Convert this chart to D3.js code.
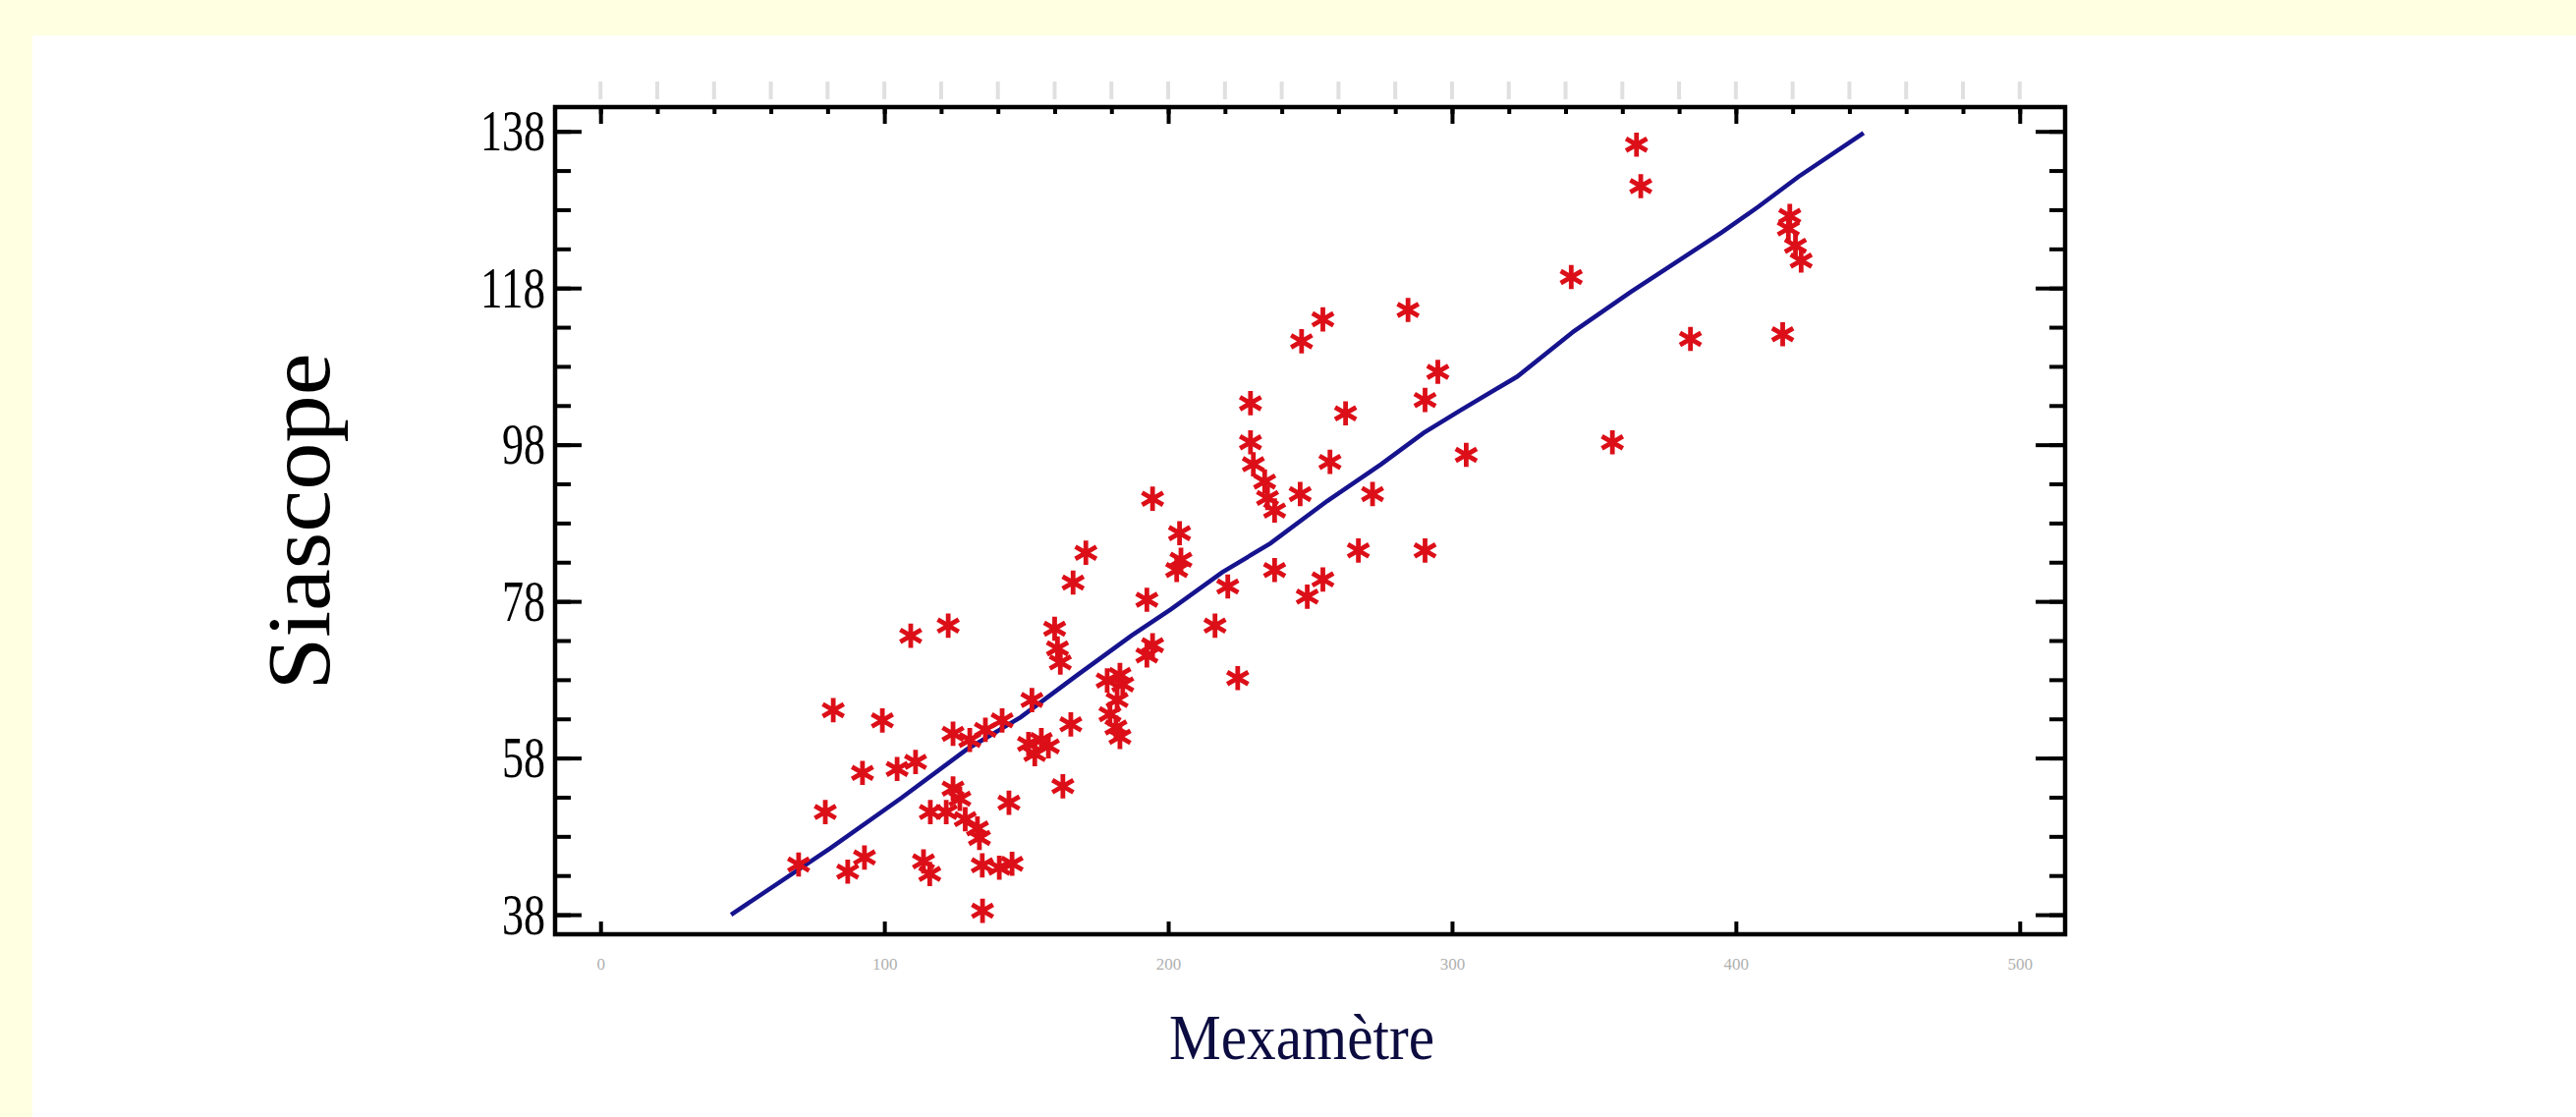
<!DOCTYPE html>
<html>
<head>
<meta charset="utf-8">
<script src="https://cdn.jsdelivr.net/npm/d3@7"></script>
<style>
html, body { margin: 0; padding: 0; background: #ffffe1; }
svg { display: block; }
</style>
</head>
<body>
<svg id="chart"></svg>
<script>
var width = 2622,
height = 1137

var xDomain = [-16, 516]
var yDomain = [35.5, 141.1]
var xTicks = [0, 100, 200, 300, 400, 500]
var yTicks = [38, 58, 78, 98, 118, 138]

// measured points (Mexametre, Siascope)
var mexametre = [365, 366.5, 342, 419, 418.5, 421, 423, 384, 416.5, 356.5,
  284.5, 254.5, 247, 295, 290.5, 229, 262.5, 229, 230, 257,
  234, 235, 237.5, 246.5, 272, 194.5, 204, 204.5, 203, 305,
  267, 290.5, 237.5, 254.5, 249, 221, 216.5, 192.5, 194.5, 224.5,
  171, 166.5, 160, 161, 162, 192.5, 183, 178.5, 184, 182,
  179.5, 183, 152, 109.3, 122.5, 82, 99.3, 141.5, 165.7, 155.3,
  150.8, 157.8, 124.2, 130.1, 135.6, 92.3, 104.5, 124.2, 126.6, 116.2,
  121.8, 143.9, 162.9, 132.8, 133.5, 79.2, 93, 113.8, 140.5, 69.8,
  87.1, 134.6, 134.5, 145, 116, 181.6, 111, 128.5, 153]
var siascope = [136.3, 131, 119.4, 127.2, 125.6, 123.4, 121.5, 111.5, 112.1, 98.3,
  115.2, 114, 111.2, 107.3, 103.7, 103.3, 102, 98.3, 95.5, 95.8,
  93.3, 91.2, 89.6, 91.7, 91.7, 91.1, 86.7, 83.3, 82, 96.7,
  84.5, 84.5, 82, 80.8, 78.6, 79.9, 74.9, 78.2, 72.4, 68.2,
  84.2, 80.4, 74.5, 72, 70.2, 71.1, 68.6, 67.9, 67.4, 65.4,
  63.6, 60.7, 65.4, 73.6, 74.9, 64.1, 62.8, 62.8, 62.3, 60.3,
  59.8, 59.5, 61.1, 60.3, 61.6, 56.1, 56.6, 54.1, 52.8, 51.1,
  51.1, 52.3, 54.4, 49, 47.8, 51.1, 45.3, 44.8, 44, 44.4,
  43.5, 38.5, 44.3, 44.5, 43.2, 61.9, 57.5, 50.2, 58.5]

// smoothed fit
var fitX = [46, 81, 106, 129, 148, 168, 187, 201, 219, 236, 256, 275, 290, 303, 323, 343, 363, 379, 395, 408, 422, 445]
var fitY = [38, 46.5, 52.9, 59.1, 63.2, 68.6, 73.6, 77, 81.7, 85.4, 90.8, 95.5, 99.5, 102.4, 106.7, 112.5, 117.5, 121.3, 125.1, 128.4, 132.2, 137.8]

var pLeft = 565, pRight = 2102, pTop = 109, pBottom = 951

var svg = d3.select("#chart")
.attr("width", width)
.attr("height", height)

svg.append("rect")
.attr("x", 33)
.attr("y", 36)
.attr("width", width - 33)
.attr("height", height - 36)
.attr("fill", "#ffffff")

var x = d3.scaleLinear().domain(xDomain).range([pLeft, pRight])
var y = d3.scaleLinear().domain(yDomain).range([pBottom, pTop])

var xMinor = d3.range(0, 501, 20)
var yMinor = d3.range(38, 139, 5)

// faint ghost ticks above the frame
svg.append("g")
.selectAll("line")
.data(xMinor)
.enter()
.append("line")
.attr("x1", function(d){ return x(d) })
.attr("x2", function(d){ return x(d) })
.attr("y1", pTop - 26)
.attr("y2", pTop - 8)
.attr("stroke", "#e0e0e0")
.attr("stroke-width", 4)

function tickStyle(g, w){
  g.select(".domain").remove()
  g.selectAll(".tick line").attr("stroke", "#000").attr("stroke-width", w)
}

svg.append("g")
.attr("transform", "translate(" + pLeft + ",0)")
.call(d3.axisLeft(y).tickValues(yMinor).tickSizeInner(-16).tickSizeOuter(0).tickFormat(""))
.call(tickStyle, 4)

svg.append("g")
.attr("transform", "translate(" + pLeft + ",0)")
.call(d3.axisLeft(y).tickValues(yTicks).tickSizeInner(-27).tickSizeOuter(0).tickPadding(10))
.call(tickStyle, 4)
.selectAll("text")
.attr("font-family", "'Liberation Serif', 'Times New Roman', serif")
.attr("font-size", 60)
.attr("fill", "#000")
.attr("textLength", function(d){ return String(d).length * 22 })
.attr("lengthAdjust", "spacingAndGlyphs")

svg.append("g")
.attr("transform", "translate(" + pRight + ",0)")
.call(d3.axisRight(y).tickValues(yMinor).tickSizeInner(-16).tickSizeOuter(0).tickFormat(""))
.call(tickStyle, 4)

svg.append("g")
.attr("transform", "translate(" + pRight + ",0)")
.call(d3.axisRight(y).tickValues(yTicks).tickSizeInner(-30).tickSizeOuter(0).tickFormat(""))
.call(tickStyle, 4)

svg.append("g")
.attr("transform", "translate(0," + pTop + ")")
.call(d3.axisTop(x).tickValues(xMinor).tickSizeInner(-7).tickSizeOuter(0).tickFormat(""))
.call(tickStyle, 4)

svg.append("g")
.attr("transform", "translate(0," + pTop + ")")
.call(d3.axisTop(x).tickValues(xTicks).tickSizeInner(-17).tickSizeOuter(0).tickFormat(""))
.call(tickStyle, 4)

svg.append("g")
.attr("transform", "translate(0," + pBottom + ")")
.call(d3.axisBottom(x).tickValues(xTicks).tickSizeInner(-13).tickSizeOuter(0).tickPadding(24))
.call(tickStyle, 4)
.selectAll("text")
.attr("font-family", "'Liberation Serif', serif")
.attr("font-size", 17)
.attr("fill", "#b0b0b0")

svg.append("rect")
.attr("x", pLeft)
.attr("y", pTop)
.attr("width", pRight - pLeft)
.attr("height", pBottom - pTop)
.attr("fill", "none")
.attr("stroke", "#000")
.attr("stroke-width", 4.5)

var fit = fitX.map(function(d, i){ return [d, fitY[i]] })

svg.append("path")
.datum(fit)
.attr("d", d3.line().x(function(d){ return x(d[0]) }).y(function(d){ return y(d[1]) }))
.attr("fill", "none")
.attr("stroke", "#16138e")
.attr("stroke-width", 4.5)

var star = d3.symbol().type(d3.symbolAsterisk).size(430)

svg.append("g")
.selectAll("path")
.data(mexametre.map(function(d, i){ return [d, siascope[i]] }))
.enter()
.append("path")
.attr("transform", function(d){ return "translate(" + x(d[0]) + "," + y(d[1]) + ")" })
.attr("d", star)
.attr("fill", "none")
.attr("stroke", "#dc0f18")
.attr("stroke-width", 4.8)

svg.append("text")
.attr("transform", "translate(335,531) rotate(-90)")
.attr("text-anchor", "middle")
.attr("font-family", "'Liberation Serif', 'Times New Roman', serif")
.attr("font-size", 92)
.attr("textLength", 343)
.attr("lengthAdjust", "spacingAndGlyphs")
.attr("fill", "#000")
.text("Siascope")

svg.append("text")
.attr("x", 1325)
.attr("y", 1078)
.attr("text-anchor", "middle")
.attr("font-family", "'Liberation Serif', 'Times New Roman', serif")
.attr("font-size", 66)
.attr("textLength", 270)
.attr("lengthAdjust", "spacingAndGlyphs")
.attr("fill", "#0c0c40")
.text("Mexamètre")
</script>
</body>
</html>
